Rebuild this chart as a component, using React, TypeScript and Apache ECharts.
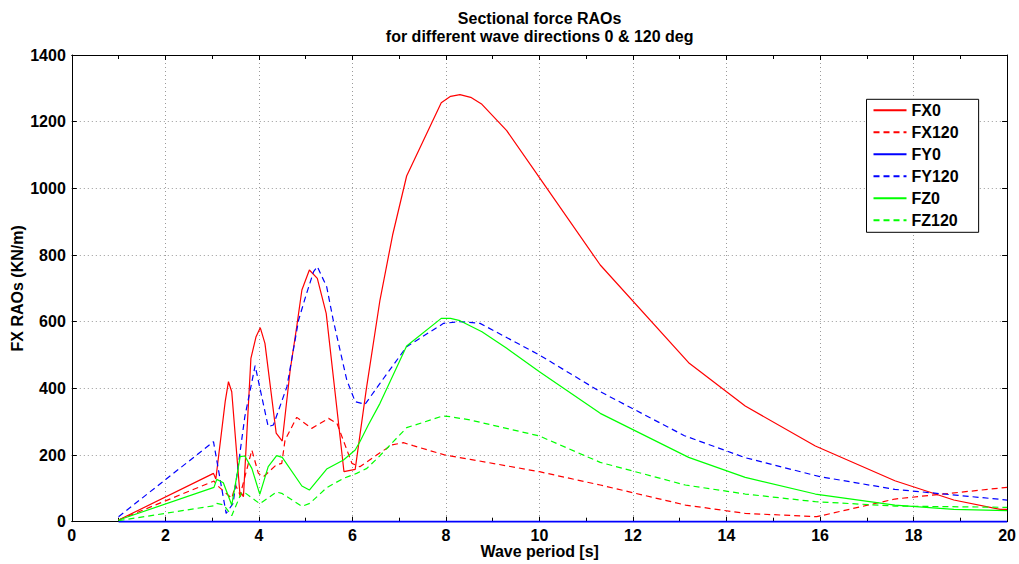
import React, { useEffect, useRef } from "react";
import * as echarts from "echarts";

// Wave period [s] vs RAO value (KN/m)
const fx0: [number, number][] = [
  [1.0, 5], [3.03, 145], [3.08, 128], [3.28, 360], [3.35, 420], [3.42, 390], [3.6, 75], [3.63, 85],
  [3.67, 75], [3.83, 490], [3.94, 555], [4.03, 582], [4.13, 535], [4.37, 266], [4.5, 242], [4.67, 455],
  [4.81, 585], [4.92, 695], [5.08, 755], [5.25, 730], [5.44, 625], [5.82, 150], [6.06, 157], [6.3, 400],
  [6.59, 665], [6.86, 860], [7.16, 1037], [7.9, 1257], [8.1, 1276], [8.3, 1281], [8.53, 1273], [8.77, 1252],
  [9.3, 1173], [10.0, 1032], [11.3, 770], [13.19, 477], [14.4, 347], [15.9, 227], [17.6, 123], [18.86, 65],
  [19.85, 37], [20, 37],
];
const fx120: [number, number][] = [
  [1.0, 5], [3.04, 122], [3.1, 110], [3.42, 70], [3.5, 110], [3.6, 80], [3.85, 215], [3.99, 145],
  [4.1, 135], [4.37, 170], [4.49, 175], [4.56, 245], [4.81, 313], [5.13, 280], [5.49, 310], [5.67, 295],
  [5.99, 175], [6.16, 165], [6.52, 200], [6.84, 230], [7.09, 237], [7.3, 228], [7.98, 200], [8.52, 187],
  [10.0, 150], [11.3, 110], [13.12, 50], [14.4, 25], [15.93, 15], [17.6, 68], [20, 103],
];
const fy0: [number, number][] = [
  [1.0, 0], [20, 0],
];
const fy120: [number, number][] = [
  [1.0, 15], [3.03, 240], [3.3, 25], [3.45, 55], [3.7, 315], [3.92, 468], [4.2, 285], [4.31, 290],
  [4.6, 405], [4.85, 605], [5.01, 680], [5.17, 750], [5.25, 765], [5.45, 705], [5.59, 605], [5.88, 425],
  [6.06, 360], [6.27, 352], [6.59, 415], [7.16, 525], [7.95, 595], [8.3, 600], [8.73, 595], [10.0, 500],
  [11.3, 390], [13.1, 258], [14.4, 192], [16.0, 135], [17.6, 97], [20, 65],
];
const fz0: [number, number][] = [
  [1.0, 5], [3.04, 103], [3.1, 127], [3.24, 117], [3.42, 50], [3.6, 195], [3.7, 197], [3.85, 160],
  [4.02, 82], [4.2, 165], [4.38, 198], [4.5, 193], [4.92, 107], [5.08, 95], [5.45, 158], [5.81, 185],
  [6.06, 215], [6.16, 240], [6.34, 290], [6.59, 355], [7.16, 527], [7.9, 610], [8.1, 610], [8.3, 603],
  [8.77, 570], [9.3, 520], [10.0, 450], [11.3, 325], [13.19, 193], [14.4, 133], [15.9, 83], [17.6, 50],
  [18.86, 37], [20, 33],
];
const fz120: [number, number][] = [
  [1.0, 3], [3.04, 48], [3.1, 55], [3.25, 50], [3.42, 18], [3.63, 88], [3.72, 85], [4.02, 54],
  [4.38, 89], [4.49, 85], [4.92, 46], [5.09, 55], [5.45, 102], [5.81, 130], [6.09, 145], [6.31, 160],
  [6.59, 198], [6.84, 235], [7.16, 282], [7.93, 317], [8.1, 315], [8.52, 305], [10.0, 257], [11.3, 178],
  [13.12, 110], [14.4, 83], [15.9, 60], [17.6, 47], [20, 43],
];

const seriesNames = ["FX0", "FX120", "FY0", "FY120", "FZ0", "FZ120"];
const seriesColors = ["#ff0000", "#ff0000", "#0000ff", "#0000ff", "#00ff00", "#00ff00"];
const seriesDashed = [false, true, false, true, false, true];
const seriesData = [fx0, fx120, fy0, fy120, fz0, fz120];

const titleLines = ["Sectional force RAOs", "for different wave directions 0 & 120 deg"];
const xAxisTitle = "Wave period [s]";
const yAxisTitle = "FX RAOs (KN/m)";

const FONT = "'Liberation Sans', Arial, Helvetica, sans-serif";

export default function App() {
  const ref = useRef<HTMLDivElement>(null);

  useEffect(() => {
    if (!ref.current) return;
    const chart = echarts.init(ref.current, null, { renderer: "svg" });

    const gridLeft = 71.8;
    const gridRight = 1019 - 1007.5;
    const gridTop = 55;
    const gridBottom = 564 - 521.7;
    const plotCenterX = (gridLeft + 1007.5) / 2;
    const plotCenterY = (gridTop + 521.7) / 2;

    const labelStyle = {
      fontFamily: FONT,
      fontSize: 16,
      fontWeight: "bold" as const,
      color: "#000",
    };

    const xBase = (pos: "bottom" | "top", labels: boolean) => ({
      type: "value" as const,
      position: pos,
      min: 0,
      max: 20,
      interval: 2,
      axisLine: { show: true, onZero: false, lineStyle: { color: "#000", width: 1 } },
      axisTick: { show: true, inside: true, length: 5, lineStyle: { color: "#000", width: 1 } },
      minorTick: { show: true, splitNumber: 2, length: 4, lineStyle: { color: "#000", width: 1 } },
      splitLine: {
        show: labels,
        lineStyle: { color: "#9a9a9a", width: 1, type: [1, 3] },
      },
      minorSplitLine: { show: false },
      axisLabel: { show: labels, margin: 6, formatter: (v: number) => String(v), ...labelStyle },
    });

    const yBase = (pos: "left" | "right", labels: boolean) => ({
      type: "value" as const,
      position: pos,
      min: 0,
      max: 1400,
      interval: 200,
      axisLine: { show: true, onZero: false, lineStyle: { color: "#000", width: 1 } },
      axisTick: { show: true, inside: true, length: 5, lineStyle: { color: "#000", width: 1 } },
      splitLine: {
        show: labels,
        lineStyle: { color: "#9a9a9a", width: 1, type: [1, 3] },
      },
      axisLabel: { show: labels, margin: 6, formatter: (v: number) => String(v), ...labelStyle },
    });

    chart.setOption({
      animation: false,
      backgroundColor: "#fff",
      grid: {
        left: gridLeft,
        right: gridRight,
        top: gridTop,
        bottom: gridBottom,
        containLabel: false,
      },
      xAxis: [xBase("bottom", true), xBase("top", false)],
      yAxis: [yBase("left", true), yBase("right", false)],
      legend: {
        orient: "vertical",
        left: 866.5,
        top: 99.3,
        data: seriesNames,
        itemWidth: 33,
        itemHeight: 14,
        itemGap: 6,
        padding: [3, 20, 4, 6],
        borderColor: "#000",
        borderWidth: 1,
        backgroundColor: "#fff",
        itemStyle: { opacity: 0, borderWidth: 0 },
        textStyle: { ...labelStyle, lineHeight: 16 },
        selectedMode: false,
      },
      graphic: [
        {
          type: "text",
          x: plotCenterX,
          y: 18,
          style: { text: titleLines[0], align: "center", verticalAlign: "middle", ...labelStyle, fill: "#000" },
        },
        {
          type: "text",
          x: plotCenterX,
          y: 36,
          style: { text: titleLines[1], align: "center", verticalAlign: "middle", ...labelStyle, fill: "#000" },
        },
        {
          type: "text",
          x: plotCenterX,
          y: 551,
          style: { text: xAxisTitle, align: "center", verticalAlign: "middle", ...labelStyle, fill: "#000" },
        },
        {
          type: "text",
          x: 17,
          y: plotCenterY,
          rotation: Math.PI / 2,
          style: { text: yAxisTitle, align: "center", verticalAlign: "middle", ...labelStyle, fill: "#000" },
        },
      ],
      series: seriesNames.map((name, i) => ({
        name,
        type: "line",
        xAxisIndex: 0,
        yAxisIndex: 0,
        data: seriesData[i],
        symbol: "none",
        clip: false,
        lineStyle: {
          color: seriesColors[i],
          width: name === "FY0" ? 1.8 : 1.2,
          type: seriesDashed[i] ? [6, 4] : "solid",
        },
        itemStyle: { color: seriesColors[i] },
        emphasis: { disabled: true },
      })),
    });

    return () => {
      chart.dispose();
    };
  }, []);

  return (
    <div
      ref={ref}
      style={{ position: "fixed", left: 0, top: 0, width: 1019, height: 564, background: "#fff" }}
    />
  );
}
